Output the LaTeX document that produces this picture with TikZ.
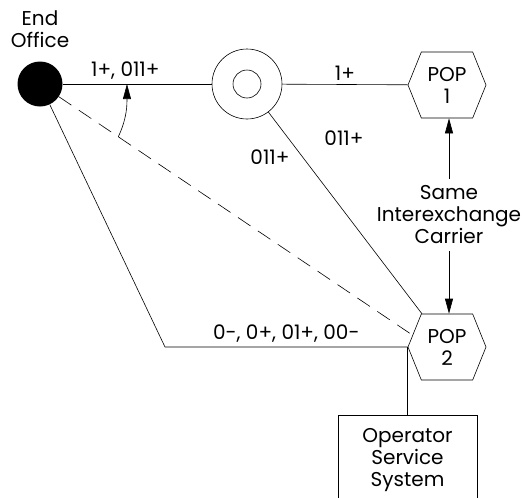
\documentclass[tikz,border=0pt]{standalone}
\usepackage{fontspec}
\setmainfont{Poppins}
\usetikzlibrary{arrows.meta,positioning,shapes.symbols}
\tikzset{
  popnode/.style={signal,signal to=east and west,signal pointer angle=136,
    draw,minimum width=78pt,minimum height=66pt,inner sep=0pt,
    align=center,font=\fontsize{20}{22}\selectfont},
  lbl/.style={font=\fontsize{20}{22}\selectfont,align=center,inner sep=1pt},
  ossbox/.style={rectangle,draw,minimum width=139pt,minimum height=90pt,
    align=center,font=\fontsize{20}{22}\selectfont},
  tip/.style={-{Triangle[length=15pt,width=8pt]}},
  dashline/.style={dash pattern=on 15pt off 9pt},
}

\begin{document}
\begin{tikzpicture}[x=1pt,y=-1pt,line width=0.6pt]
  \useasboundingbox (0,0) rectangle (525,498);
  \node[circle,fill=black,minimum size=45pt,inner sep=0pt](eo)at(40,84){};
  \node[lbl](eolbl)at(40,29){End\\Office};
  \node[circle,draw,minimum size=70pt,inner sep=0pt](tdm)at(247,84){};
  \node[circle,draw,minimum size=28pt,inner sep=0pt](tdmin)at(tdm){};
  \node[popnode](pop1)at(447,85){POP\\1};
  \node[popnode](pop2)at(447,347){POP\\2};
  \node[lbl,inner sep=7pt](iec)at(449,215)
    {Same\\Interexchange\\Carrier};
  \node[ossbox](oss)at(407.5,460){Operator\\Service\\System};
  \coordinate(knee)at(165,347);
  \draw(eo)--coordinate[pos=0.431](hx)
    node[lbl,pos=0.42,above=3pt]{1+, 011+}(tdm);
  \draw(tdm)--node[lbl,above=3pt]{1+}(pop1);
  \draw(tdm)--(pop2.127);
  \node[lbl](lblA)at(344,138){011+};
  \draw[dashline](eo)--coordinate[pos=0.168](dx)(pop2.161);
  \node[lbl](lblB)at(270,157){011+};
  \draw[tip](dx)to[out=65,in=-90](hx);
  \draw(eo)--(knee)--node[lbl,above=3pt]{0-, 0+, 01+, 00-}(pop2.west);
  \draw(pop2.west)--(pop2.west|-oss.north);
  \draw[tip](iec.north)--(iec.north|-pop1.south);
  \draw[tip](iec.south)--(iec.south|-pop2.north);
\end{tikzpicture}
\end{document}
